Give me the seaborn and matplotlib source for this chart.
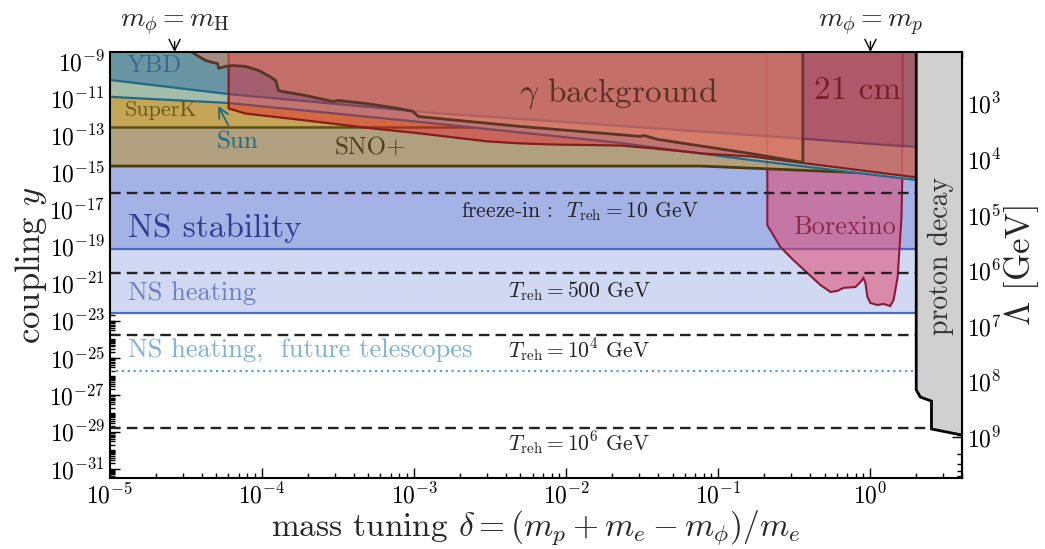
import numpy as np
import matplotlib
matplotlib.use("Agg")
import matplotlib.pyplot as plt
import seaborn as sns
from matplotlib.ticker import FixedLocator, NullFormatter, LogFormatterMathtext

# ---------------------------------------------------------------- data
delta_lim = (1e-5, 4.0)
y_lim = (10**-31.5, 10**-8.5)
y_fill_top = 1e-8

# coupling <-> cutoff scale: y = C_LAMBDA / Lambda^3
C_LAMBDA = 10**-2.29

# horizontal bounds
y_ns_stability = 7.2e-20
y_ns_heating = 2.6e-23
y_ns_future = 1.9e-26
y_superk = 2.8e-13

# freeze-in reheating temperatures
treh_labels = [r"freeze-in :  $T_{\rm reh} = 10$ GeV",
               r"$T_{\rm reh} = 500$ GeV",
               r"$T_{\rm reh} = 10^4$ GeV",
               r"$T_{\rm reh} = 10^6$ GeV"]
y_treh = [7.8e-17, 3.7e-21, 1.7e-24, 1.6e-29]
y_treh_text = [7.2e-18, 4.0e-22, 2.6e-25, 2.5e-30]

# SNO+
delta_sno = [1e-5, 0.0762, 2.0]
y_sno = [2.2e-15, 2.2e-15, 7.2e-16]

# Sun band
delta_sun_upper = [1e-5, 5.98e-5, 1.37e-3, 0.1625, 2.0]
y_sun_upper = [9.8e-11, 1.7e-11, 1.6e-12, 1.05e-13, 2.4e-14]
delta_sun_lower = [1e-5, 5.98e-5, 1.09e-3, 0.0226, 0.1625, 2.0]
y_sun_lower = [1.2e-11, 5.6e-12, 5.3e-13, 3.9e-14, 4.7e-15, 3.9e-16]

# gamma-ray background (two bounds)
delta_gamma_a = [3.46e-5, 3.79e-5, 4.22e-5, 4.69e-5, 5.06e-5, 5.14e-5, 5.71e-5,
                 6.35e-5, 7.73e-5, 9.41e-5, 1.09e-4, 1.22e-4, 1.27e-4, 1.35e-4,
                 1.92e-4, 2.89e-4, 3.16e-4, 4.76e-4, 7.85e-4, 9.71e-4, 1.06e-3,
                 4.98e-3, 0.0307, 0.0321, 0.0397, 0.1625, 0.357]
y_gamma_a = [3.2e-9, 1.95e-9, 1.18e-9, 9.1e-10, 8.1e-10, 4.4e-10, 5.6e-10,
             6.3e-10, 5.6e-10, 3.4e-10, 1.8e-10, 9.8e-11, 2.8e-11, 2.5e-11,
             1.5e-11, 7.2e-12, 8.1e-12, 5.6e-12, 3.0e-12, 2.1e-12, 1.1e-12,
             3.2e-13, 9.3e-14, 1.05e-13, 6.4e-14, 1.1e-14, 3.7e-15]
delta_gamma_b = [5.98e-5, 7.73e-5, 1.92e-4, 5.30e-4, 1.09e-3, 1.81e-3, 3.02e-3,
                 4.98e-3, 8.21e-3, 0.0226, 0.0374, 0.0797, 0.1625, 2.0]
y_gamma_b = [3.0e-12, 1.6e-12, 6.8e-13, 2.5e-13, 1.35e-13, 8.2e-14, 5.0e-14,
             3.9e-14, 3.4e-14, 3.0e-14, 2.1e-14, 1.1e-14, 7.7e-15, 5.7e-16]

# 21 cm
delta_21cm = [0.357, 1.62]
y_21cm = [7.2e-14, 2.6e-14]

# Borexino (closed contour)
delta_borexino = [0.210, 0.210, 0.256, 0.311, 0.385, 0.469, 0.546, 0.607, 0.664,
                  0.797, 0.859, 0.899, 0.927, 0.955, 1.0, 1.11, 1.22, 1.35, 1.42,
                  1.51, 1.55, 1.60, 1.62, 1.62]
y_borexino = [1e-8, 1.4e-18, 9.3e-20, 1.86e-20, 3.7e-21, 8.3e-22, 3.5e-22, 4.0e-22,
              5.8e-22, 6.5e-22, 1.2e-21, 2.0e-21, 1.07e-21, 1.9e-22, 8.9e-23,
              6.9e-23, 7.9e-23, 6.1e-23, 1.3e-22, 2.2e-21, 6.4e-20, 3.9e-18,
              5.7e-16, 1e-8]

# proton decay (closed contour)
delta_pdecay = [2.0, 2.0, 2.13, 2.52, 2.52, 4.0, 4.5, 4.5]
y_pdecay = [1e-8, 1.8e-27, 7.4e-28, 4.5e-28, 1.4e-29, 6.6e-30, 6.6e-30, 1e-8]

# reference masses
delta_mH = 2.66e-5
delta_mp = 1.0

x_major = [1e-5, 1e-4, 1e-3, 1e-2, 1e-1, 1e0]
y_major = [10.0**k for k in range(-31, -8, 2)]
lambda_major = [10.0**k for k in range(3, 10)]

# ---------------------------------------------------------------- style
sns.set_theme(style="ticks")
plt.rcParams.update({
    "font.family": "serif",
    "font.serif": ["cmr10"],
    "mathtext.fontset": "cm",
    "axes.formatter.use_mathtext": True,
    "axes.unicode_minus": False,
    "axes.linewidth": 1.5,
    "axes.edgecolor": "black",
    "xtick.color": "black",
    "ytick.color": "black",
})

fig = plt.figure(figsize=(10.45, 5.49), dpi=100)
ax = fig.add_axes([110 / 1045, 1 - 478 / 549, 852 / 1045, 426 / 549])
ax.set_xscale("log")
ax.set_yscale("log")
ax.set_xlim(*delta_lim)
ax.set_ylim(*y_lim)

x_full = list(delta_lim)

# neutron-star bounds
ax.fill_between(x_full, y_ns_heating, y_fill_top, color="#d0d8f2", lw=0, zorder=1)
ax.plot(x_full, [y_ns_heating] * 2, color="#4a6bc4", lw=1.6, zorder=1.05)
ax.fill_between(x_full, y_ns_stability, y_fill_top, color="#a4b2e6", lw=0, zorder=1.1)
ax.plot(x_full, [y_ns_stability] * 2, color="#4a6bc4", lw=1.6, zorder=1.15)

# Borexino
ax.fill(delta_borexino, y_borexino, facecolor=(227 / 255, 66 / 255, 105 / 255, 0.52),
        edgecolor="#8b1a3a", lw=1.5, zorder=1.17)

# SNO+
ax.fill_between(delta_sno, y_sno, y_fill_top, color="#b0a080", lw=0, zorder=1.2)
ax.plot(delta_sno, y_sno, color="#4d3d05", lw=2.0, zorder=1.25)

# SuperK
ax.fill_between(x_full, y_superk, y_fill_top, color="#c4a656", lw=0, zorder=1.3)
ax.plot(x_full, [y_superk] * 2, color="#5e4e10", lw=1.8, zorder=1.35)

# Sun
ax.fill_between(delta_sun_lower, y_sun_lower, y_fill_top, color="#a3bda8", lw=0, zorder=1.4)
ax.plot(delta_sun_lower, y_sun_lower, color="#1e6a8c", lw=1.6, zorder=1.45)

# YBD
ax.fill_between(delta_sun_upper, y_sun_upper, y_fill_top, color="#6a96a3", lw=0, zorder=1.5)
ax.plot(delta_sun_upper, y_sun_upper, color="#1e6a8c", lw=1.6, zorder=1.55)

# Borexino edge seen through the upper bounds
ax.plot([delta_borexino[0]] * 2, [y_borexino[0], y_sno[-1]],
        color=(139 / 255, 26 / 255, 58 / 255, 0.35), lw=1.2, zorder=1.58)
ax.plot([delta_borexino[-1]] * 2, [y_borexino[-1], y_sno[-1]],
        color=(139 / 255, 26 / 255, 58 / 255, 0.35), lw=1.2, zorder=1.58)

# gamma-ray background
ax.fill_between(delta_gamma_b, y_gamma_b, y_fill_top,
                facecolor=(232 / 255, 30 / 255, 45 / 255, 0.45),
                edgecolor="#8b1a1a", lw=1.6, zorder=1.7)
ax.fill_between(delta_gamma_a, y_gamma_a, y_fill_top,
                facecolor=(238 / 255, 131 / 255, 99 / 255, 0.45),
                edgecolor="#5a3525", lw=2.0, zorder=1.8)

# 21 cm
ax.fill_between(delta_21cm, y_21cm, y_fill_top,
                facecolor=(202 / 255, 76 / 255, 98 / 255, 0.30),
                edgecolor=(120 / 255, 30 / 255, 60 / 255, 0.35), lw=1.2, zorder=1.9)

# freeze-in lines
for yv in y_treh:
    sns.lineplot(x=x_full, y=[yv, yv], ax=ax, color="#222222", lw=1.7,
                 dashes=False, legend=False, zorder=2.0)
for line in ax.lines[-len(y_treh):]:
    line.set_dashes((4.5, 2.6))

sns.lineplot(x=x_full, y=[y_ns_future] * 2, ax=ax, color="#5aa0d2", lw=1.6,
             legend=False, zorder=2.0)
ax.lines[-1].set_linestyle(":")

# proton decay
ax.fill(delta_pdecay, y_pdecay, facecolor="#d0d0d0", edgecolor="black", lw=2.0, zorder=3)

# ---------------------------------------------------------------- text
ax.text(1.31e-5, 1e-18, "NS stability", fontsize=24, color="#2f3f8f", va="center", zorder=4)
ax.text(1.31e-5, 3.1e-22, "NS heating", fontsize=19, color="#6a7fc8", va="center", zorder=4)
ax.text(1.31e-5, 2.6e-25, "NS heating,  future telescopes", fontsize=19,
        color="#7fb0d8", va="center", zorder=4)
ax.text(1.29e-5, 5.6e-10, "YBD", fontsize=18, color="#3a6a8a", va="center", zorder=4)
ax.text(1.25e-5, 2.2e-12, "SuperK", fontsize=16, color="#6b5a1a", va="center", zorder=4)
ax.annotate("Sun", xy=(5.14e-5, 3.9e-12), xytext=(6.85e-5, 4.4e-14), fontsize=18,
            color="#1e6a8c", ha="center", va="center", zorder=4,
            arrowprops=dict(arrowstyle="->", color="#1e6a8c", lw=1.3,
                            shrinkA=2, shrinkB=0))
ax.text(5.14e-4, 2.3e-14, "SNO+", fontsize=18, color="#4d4010", ha="center",
        va="center", zorder=4)
ax.text(0.022, 1.8e-11, r"$\gamma$ background", fontsize=24, color="#5a3028",
        ha="center", va="center", zorder=4)
ax.text(0.821, 2.6e-11, "21 cm", fontsize=24, color="#7a1e28", ha="center",
        va="center", zorder=4)
ax.text(0.674, 1.1e-18, "Borexino", fontsize=19, color="#8b2a4a", ha="center",
        va="center", zorder=4)
ax.text(2.89, 3.2e-20, "proton decay", fontsize=20, color="#333333", ha="center",
        va="center", rotation=90, zorder=4)

for lab, yt in zip(treh_labels, y_treh_text):
    ax.text(0.0122, yt, lab, fontsize=15.5, color="#222222", ha="center",
            va="center", zorder=4)

for xv, lab in [(delta_mH, r"$m_\phi = m_{\rm H}$"), (delta_mp, r"$m_\phi = m_p$")]:
    ax.annotate(lab, xy=(xv, 1.0), xycoords=("data", "axes fraction"),
                xytext=(0, 27), textcoords="offset pixels", fontsize=20,
                ha="center", va="center",
                arrowprops=dict(arrowstyle="->", color="black", lw=1.0,
                                shrinkA=0, shrinkB=0))

# ---------------------------------------------------------------- axes
ax.xaxis.set_major_locator(FixedLocator(x_major))
ax.xaxis.set_minor_locator(FixedLocator(
    [m * 10.0**k for k in range(-5, 1) for m in range(2, 10)]))
ax.xaxis.set_major_formatter(LogFormatterMathtext())
ax.xaxis.set_minor_formatter(NullFormatter())
ax.yaxis.set_major_locator(FixedLocator(y_major))
ax.yaxis.set_minor_locator(FixedLocator(
    [m * 10.0**k for k in range(-32, -8) for m in range(1, 10)]))
ax.yaxis.set_major_formatter(LogFormatterMathtext())
ax.yaxis.set_minor_formatter(NullFormatter())

ax.tick_params(which="both", direction="in", top=True, right=False, labelsize=17,
               width=1.0)
ax.tick_params(which="major", length=7)
ax.tick_params(which="minor", length=3.5)

ax.set_xlabel(r"mass tuning $\delta = (m_p + m_e - m_\phi)/m_e$", fontsize=24, labelpad=0)
ax.set_ylabel(r"coupling $y$", fontsize=25, labelpad=0)


def to_lambda(y):
    y = np.asarray(y, dtype=float)
    return (C_LAMBDA / np.clip(y, 1e-300, None)) ** (1.0 / 3.0)


def to_coupling(lam):
    lam = np.asarray(lam, dtype=float)
    return C_LAMBDA / np.clip(lam, 1e-100, None) ** 3


sec = ax.secondary_yaxis("right", functions=(to_lambda, to_coupling))
sec.yaxis.set_major_locator(FixedLocator(lambda_major))
sec.yaxis.set_minor_locator(FixedLocator(
    [m * 10.0**k for k in range(2, 10) for m in range(2, 10)]))
sec.yaxis.set_major_formatter(LogFormatterMathtext())
sec.yaxis.set_minor_formatter(NullFormatter())
sec.tick_params(which="both", direction="in", labelsize=17, width=1.0)
sec.tick_params(which="major", length=7)
sec.tick_params(which="minor", length=3.5)
sec.set_ylabel(r"$\Lambda$ [GeV]", fontsize=25, labelpad=0)

for s in ax.spines.values():
    s.set_zorder(5)

fig.savefig("out.png", dpi=100)
